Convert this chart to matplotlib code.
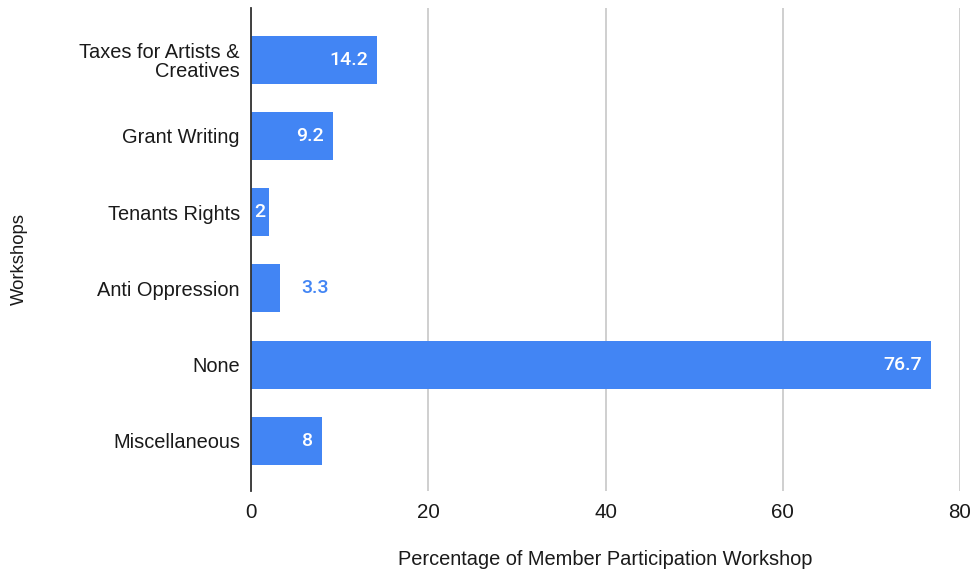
import matplotlib.pyplot as plt
import numpy as np

workshops = ["Taxes for Artists &\nCreatives", "Grant Writing", "Tenants Rights",
             "Anti Oppression", "None", "Miscellaneous"]
percent = [14.2, 9.2, 2, 3.3, 76.7, 8]
label_outside = [False, False, False, True, False, False]

blue = "#4285F4"
ink = "#1a1a1a"

plt.rcParams['font.family'] = ['Liberation Sans', 'DejaVu Sans']

fig = plt.figure(figsize=(9.77, 5.77), dpi=100)
ax = fig.add_axes([251 / 977, 1 - 491 / 577, 709 / 977, 483 / 577])

y = np.arange(len(workshops))
bars = ax.barh(y, percent, height=0.63, color=blue, zorder=3)

ax.set_xlim(0, 80)
ax.set_ylim(len(workshops) - 1 + 0.66, -0.68)
ax.set_xticks([0, 20, 40, 60, 80])
ax.set_yticks(y)
ax.set_yticklabels(workshops, fontsize=14.4, color=ink, linespacing=1.0)
ax.tick_params(axis='x', length=0, pad=8.5, labelsize=14.8, labelcolor=ink)
ax.tick_params(axis='y', length=0, pad=8)

ax.grid(axis='x', color="#cccccc", linewidth=1.3, zorder=0)
for side in ['top', 'right', 'bottom']:
    ax.spines[side].set_visible(False)
ax.spines['left'].set_color("#333333")
ax.spines['left'].set_linewidth(1.3)
ax.spines['left'].set_zorder(4)

# value labels: white inside the bar end, blue after the bar when flagged
lab_font = dict(fontsize=14, family=['Roboto', 'DejaVu Sans'], fontweight='medium', zorder=5)
for bar, val, out in zip(bars, percent, label_outside):
    yc = bar.get_y() + bar.get_height() / 2
    txt = f"{val:g}"
    if out:
        ax.annotate(txt, (val, yc), xytext=(15, 0), textcoords='offset points',
                    ha='left', va='center', color=blue, **lab_font)
    elif val < 3:
        ax.annotate(txt, (val / 2, yc), ha='center', va='center', color='white', **lab_font)
    else:
        ax.annotate(txt, (val, yc), xytext=(-6.5, 0), textcoords='offset points',
                    ha='right', va='center', color='white', **lab_font)

ax.set_xlabel("Percentage of Member Participation Workshop", fontsize=14.4, color=ink)
ax.xaxis.set_label_coords(0.50, -0.122)
ax.set_ylabel("Workshops", fontsize=13.3, color=ink)
ax.yaxis.set_label_coords(-0.315, 0.48)

fig.savefig("out.png", dpi=100)
